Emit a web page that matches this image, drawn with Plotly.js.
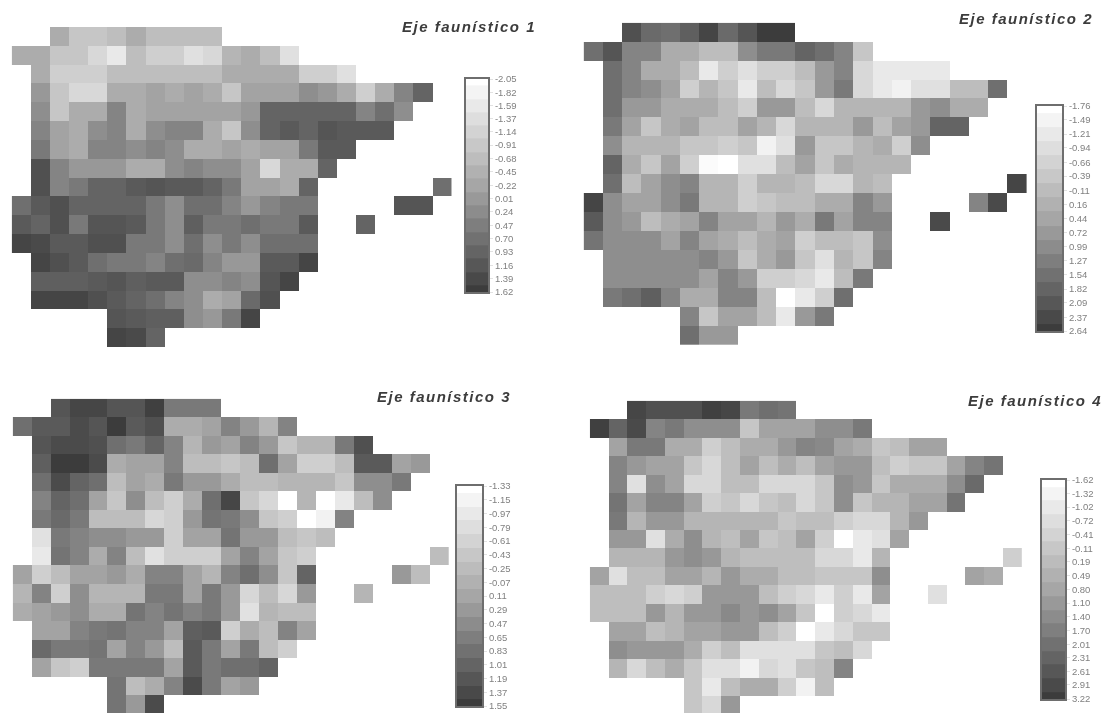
<!DOCTYPE html>
<html><head><meta charset="utf-8">
<script src="https://cdn.plot.ly/plotly-3.0.1.min.js"></script>
<style>
html,body{margin:0;padding:0;background:#fff;overflow:hidden}
#chart{width:1106px;height:713px;filter:blur(0.45px)}
.annotation-text{letter-spacing:1.5px}
</style></head><body><div id="chart"></div>
<script>
const _ = null;
const titles = ["Eje faunístico 1","Eje faunístico 2","Eje faunístico 3","Eje faunístico 4"];
const ticks1 = [-2.05,-1.82,-1.59,-1.37,-1.14,-0.91,-0.68,-0.45,-0.22,0.01,0.24,0.47,0.70,0.93,1.16,1.39,1.62];
const ticks2 = [-1.76,-1.49,-1.21,-0.94,-0.66,-0.39,-0.11,0.16,0.44,0.72,0.99,1.27,1.54,1.82,2.09,2.37,2.64];
const ticks3 = [-1.33,-1.15,-0.97,-0.79,-0.61,-0.43,-0.25,-0.07,0.11,0.29,0.47,0.65,0.83,1.01,1.19,1.37,1.55];
const ticks4 = [-1.62,-1.32,-1.02,-0.72,-0.41,-0.11,0.19,0.49,0.80,1.10,1.40,1.70,2.01,2.31,2.61,2.91,3.22];
const axis1 = [
[_,_,-.34,-.88,-.88,-.7,-.34,-.7,-.7,-.7,-.7],
[-.34,-.34,-.88,-.88,-1.24,-1.6,-.7,-1.06,-1.06,-1.42,-1.24,-.52,-.34,-.7,-1.42],
[_,-.34,-1.06,-1.06,-1.06,-.7,-.7,-.7,-.7,-.7,-.7,-.34,-.34,-.34,-.34,-1.06,-1.06,-1.42],
[_,.02,-.88,-1.24,-1.24,-.34,-.34,-.16,-.34,-.16,-.34,-.88,-.16,-.16,-.16,.2,.02,-.34,-1.06,-.34,.38,.92],
[_,.2,-.88,-.34,-.34,.38,-.34,-.16,-.16,-.16,-.16,-.16,.02,.92,.92,.92,.92,.92,.38,.74,.2],
[_,.38,-.16,-.34,.2,.38,-.34,.2,.38,.38,-.34,-.88,.2,.92,1.1,.92,1.19,1.1,1.1,1.1],
[_,.56,-.16,-.34,.38,.38,.2,.38,.2,-.34,-.34,-.16,-.34,-.16,-.16,.56,1.1,1.1],
[_,1.28,.38,.02,.02,.02,-.34,-.34,.2,.38,.2,.2,-.16,-1.24,-.34,-.34,.92],
[_,1.28,.38,.56,.92,.92,1.1,1.19,1.1,1.1,.92,.56,-.16,-.16,-.34,.92,_,_,_,_,_,_,.74],
[.74,1.1,1.28,.92,.92,.92,.92,.56,.2,.74,.74,.38,.02,.38,.56,.56,_,_,_,_,1.19,1.19],
[1.1,.92,1.28,.56,1.19,1.19,1.1,.56,.2,1.01,.56,.56,.74,.56,.56,1.1,_,_,.92],
[1.46,1.37,1.1,1.1,1.28,1.28,.56,.56,.2,.74,.2,.56,.2,.74,.74,.74],
[_,1.46,1.28,1.1,.74,.56,.56,.38,.74,.83,.38,.02,.02,1.1,1.1,1.46],
[_,1.01,1.01,1.01,1.1,1.19,1.01,1.1,1.1,.2,.2,.38,.2,1.19,1.46],
[_,1.46,1.46,1.46,1.28,1.1,.92,.74,.38,.2,-.34,-.16,.83,1.28],
[_,_,_,_,_,1.19,1.1,1.01,1.01,.2,.02,.56,1.46],
[_,_,_,_,_,1.46,1.37,.92]
];
const axis2 = [
[_,_,2.23,1.69,1.58,1.91,2.45,1.69,2.12,2.64,2.64],
[1.58,2.12,1.15,1.15,.29,.29,-.14,-.14,.94,1.37,1.37,1.8,1.58,1.15,-.36],
[_,1.58,1.15,.29,.29,-.14,-1.22,-.57,-1.0,-.57,-.57,-.14,.72,1.15,-.79,-1.22,-1.22,-1.22,-1.22],
[_,1.58,1.15,.94,.5,-.57,.07,-.36,-1.22,-.14,-.79,-.36,.72,1.37,-.79,-1.22,-1.44,-1.0,-1.0,-.14,-.14,1.58],
[_,1.58,.72,.72,.29,.29,.29,-.14,-.57,.72,.72,-.14,-.79,.07,.07,.07,.07,.72,.94,.29,.29],
[_,1.37,.5,-.36,.29,.5,-.14,-.14,.5,.07,-.79,.07,.07,.07,.72,-.14,.5,.72,1.8,1.8],
[_,.94,.07,.07,.07,-.36,-.36,-.57,-.36,-1.44,-1.0,.72,-.36,-.36,.07,.29,-.57,.94],
[_,1.8,.29,-.36,.5,-.57,-1.65,-1.76,-1.0,-1.0,-.14,.5,-.36,.29,.07,.07,.07],
[_,1.58,-.14,.5,.94,1.15,.07,.07,-.57,.07,.07,-.14,-.79,-.79,.07,-.14,_,_,_,_,_,_,2.45],
[2.45,.94,.5,.5,.94,1.37,.07,.07,-.57,-.36,-.14,-.14,.29,.29,1.15,.72,_,_,_,_,1.15,2.34],
[2.01,.94,.72,-.14,.29,.5,1.15,.5,.5,.07,.72,.29,1.37,.5,1.15,1.15,_,_,2.34],
[1.48,.94,.94,.94,.5,1.15,.5,.29,-.14,.29,.5,-.57,-.14,-.14,-.36,.94],
[_,.94,.94,.94,.94,.94,1.15,.72,-.36,.29,.72,-.36,-1.0,.07,-.36,1.15],
[_,.94,.94,.94,.94,.94,.5,1.15,.72,-.57,-.57,-.79,-1.22,-.14,1.37],
[_,1.37,1.58,1.91,1.15,.29,.29,1.15,1.15,-.14,-1.76,-1.22,-.57,1.58],
[_,_,_,_,_,1.15,-.36,.5,.5,-.14,-1.22,.72,1.37],
[_,_,_,_,_,1.58,.72,.72]
];
const axis3 = [
[_,_,1.21,1.42,1.42,1.21,1.21,1.49,.72,.72,.72],
[.86,1.14,1.14,1.35,1.21,1.55,1.14,1.28,.01,.01,.15,.58,.29,-.13,.58],
[_,1.21,1.35,1.35,1.28,.86,.72,1.0,.58,-.13,.29,.15,.58,.29,-.41,-.13,-.13,.72,1.28],
[_,1.07,1.55,1.55,1.35,.01,.15,.15,.58,-.27,-.27,-.41,-.27,.86,.15,-.55,-.55,-.27,1.14,1.14,.15,.29],
[_,.86,1.35,1.0,.86,-.27,.15,.01,.72,.29,.29,.01,-.27,-.27,-.13,-.13,-.13,-.41,.44,.44,.72],
[_,.58,1.0,.86,.15,-.41,.44,-.27,-.55,.01,.86,1.42,-.41,-.69,-1.33,-.13,-1.33,-.98,-.27,.44],
[_,.72,.93,.72,-.27,-.27,-.27,-.69,-.55,.29,.79,.72,.44,-.41,-.55,-1.33,-1.12,.58],
[_,-.84,.72,.58,.44,.44,.29,.29,-.55,.15,.15,.79,.29,.29,-.27,-.41,-.27],
[_,-.98,.79,.58,.01,.58,-.27,-.84,-.55,-.55,-.55,.15,.58,.15,-.41,-.55,_,_,_,_,_,_,-.27],
[.15,-.55,-.27,.15,.15,.29,.01,.58,.58,.15,-.13,.58,.86,.44,-.41,1.0,_,_,_,_,.29,-.27],
[-.13,.58,-.55,.44,-.13,-.13,-.13,.72,.72,.15,.72,.29,-.69,-.27,-.69,.29,_,_,-.13],
[.01,.15,.29,.44,.01,.01,.79,.58,.79,.58,.72,.29,-.84,-.13,-.27,-.27],
[_,.15,.15,.58,.72,.79,.58,.58,.15,1.07,1.14,-.55,.01,-.27,.58,.15],
[_,.93,.72,.72,.79,.15,.58,.29,-.27,1.14,.72,.15,.72,-.27,-.55],
[_,.15,-.41,-.55,.72,.72,.72,.72,.15,1.14,.72,.86,.86,1.0],
[_,_,_,_,_,.79,-.27,.01,.58,1.35,.72,.15,.29],
[_,_,_,_,_,.79,.29,1.35]
];
const axis4 = [
[_,_,3.0,2.77,2.77,2.77,3.13,3.0,1.82,2.06,1.94],
[3.13,2.3,2.89,1.58,1.82,1.35,1.35,1.35,-.08,.87,.87,.87,1.35,1.35,1.82],
[_,.87,1.82,1.82,.63,.63,-.31,.16,.63,.63,1.11,1.58,1.47,.87,.63,-.08,.16,.87,.87],
[_,1.58,1.11,.87,.87,-.08,-.55,.16,.87,.16,.63,.16,.87,1.11,1.11,.16,-.31,-.08,-.08,.87,1.58,1.94],
[_,1.58,-.79,1.35,.87,-.55,-.55,.16,.16,-.55,-.55,-.55,-.08,1.35,1.11,-.08,.63,.63,.63,1.35,2.18],
[_,1.94,.87,1.58,1.58,.87,-.31,-.08,-.55,-.08,.16,-.55,-.08,1.35,-.08,.4,.4,.87,.87,1.94],
[_,1.82,.4,1.11,1.11,.4,.4,.4,.4,.4,-.08,.16,.16,-.31,-.55,-.55,.4,1.11],
[_,1.11,1.11,-.79,.63,1.35,.4,.16,.87,-.08,.16,.87,-.31,-1.62,-1.03,-.79,.87],
[_,.4,.4,.4,1.11,1.35,1.11,.4,.16,.16,.16,.16,-.55,-.55,-1.03,.4,_,_,_,_,_,_,-.31],
[.87,-.79,.16,.16,.87,.87,.4,1.11,.63,.63,.16,.16,-.08,-.08,-.08,1.35,_,_,_,_,.87,.63],
[.16,.16,.16,-.31,-.55,-.31,1.11,1.11,1.11,.16,-.31,-.55,-1.03,-.31,-1.03,.87,_,_,-.79],
[.16,.16,.16,1.11,.4,1.11,1.11,1.47,1.11,1.35,.87,-.08,-1.62,-.31,-.55,-1.03],
[_,.87,.87,.16,.4,.87,.87,1.11,1.11,.16,-.31,-1.62,-1.03,-.55,-.08,-.08],
[_,1.35,1.11,1.11,1.11,.63,-.31,.16,-.79,-.79,-.79,-.79,-.08,.16,-.55],
[_,.4,-.55,.16,.63,-.08,-.79,-.79,-1.26,-.55,-.79,-.08,.16,1.58],
[_,_,_,_,_,-.08,-1.03,.16,.63,.63,-.31,-1.26,.16],
[_,_,_,_,_,-.08,-.55,1.11]
];

const boxes = [
 {map:[11.7,451.7,27,347],   bar:[466,488,79,292],   tx:400, ty:26},
 {map:[583.6,1027,22.7,345], bar:[1037,1062,106,331],tx:957, ty:18},
 {map:[12.7,449,398.7,714],  bar:[457,482,486,706],  tx:375, ty:396},
 {map:[589.8,1022,400.7,715],bar:[1042,1065,480,699],tx:966, ty:400}
];
const maps=[axis1,axis2,axis3,axis4], tickSets=[ticks1,ticks2,ticks3,ticks4];
const W=1106,H=713;
const scale=[[0,'#ffffff'],[.5,'#a6a6a6'],[1,'#3c3c3c']];
const data=[], layout={width:W,height:H,margin:{l:0,r:0,t:0,b:0},paper_bgcolor:'#fff',plot_bgcolor:'#fff',showlegend:false,annotations:[]};
maps.forEach((rows,i)=>{
  const t=tickSets[i], b=boxes[i], zmin=t[0], zmax=t[t.length-1];
  const a=2*i+1, c=2*i+2;
  data.push({type:'heatmap',z:rows,xaxis:'x'+a,yaxis:'y'+a,zmin,zmax,colorscale:scale,showscale:false});
  data.push({type:'heatmap',z:t.map(v=>[v]),y:t,x:[0],xaxis:'x'+c,yaxis:'y'+c,zmin,zmax,colorscale:scale,showscale:false});
  const hid={showgrid:false,zeroline:false,showticklabels:false,ticks:'',showline:false};
  const over=b.map[3]>H?(b.map[3]-H)/((b.map[3]-b.map[2])/17):0;
  layout['xaxis'+a]=Object.assign({},hid,{domain:[b.map[0]/W,b.map[1]/W],range:[-.5,22.5],anchor:'y'+a});
  layout['yaxis'+a]=Object.assign({},hid,{domain:[1-Math.min(b.map[3],H)/H,1-b.map[2]/H],range:[16.5-over,-.5],anchor:'x'+a});
  layout['xaxis'+c]=Object.assign({},hid,{domain:[b.bar[0]/W,b.bar[1]/W],range:[-.5,.5],anchor:'y'+c,showline:true,mirror:true,linecolor:'#6e6e6e',linewidth:2});
  layout['yaxis'+c]={domain:[1-b.bar[3]/H,1-b.bar[2]/H],range:[zmax,zmin],anchor:'x'+c,side:'right',showgrid:false,zeroline:false,
    showline:true,mirror:true,linecolor:'#6e6e6e',linewidth:2,tickmode:'array',tickvals:t,ticktext:t.map(v=>v.toFixed(2)),
    ticks:'outside',ticklen:3,tickcolor:'#e2e2e2',tickfont:{family:'Liberation Sans',size:9.5,color:'#808080'}};
  layout.annotations.push({xref:'paper',yref:'paper',x:b.tx/W,y:1-b.ty/H,xanchor:'left',yanchor:'middle',showarrow:false,text:titles[i],
    font:{family:'Liberation Sans',size:15,style:'italic',weight:700,color:'#3c3c3c'}});
});
Plotly.newPlot('chart',data,layout,{displayModeBar:false,staticPlot:true});
</script></body></html>
